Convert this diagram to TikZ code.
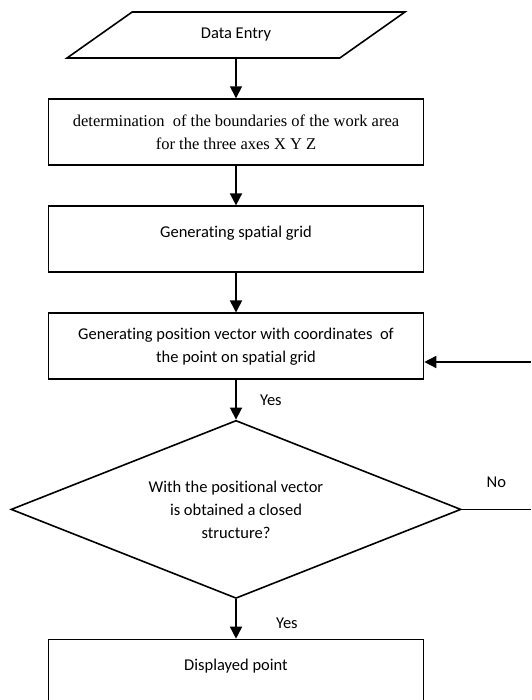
\documentclass[tikz,border=0pt]{standalone}
\usepackage{fontspec}
\setmainfont[Ligatures=NoCommon]{Carlito}
\newfontfamily\timesfont{Liberation Serif}
\usepackage{tikz}
\usetikzlibrary{positioning, shapes.geometric, arrows.meta}

\begin{document}
\begin{tikzpicture}[x=1pt, y=1pt, node distance=39.5pt,
every node/.style={font=\fontsize{16.5}{23}\selectfont},
inputnode/.style={trapezium, trapezium left angle=31, trapezium right angle=149, trapezium stretches=true, draw=black, line width=1.6pt, minimum width=338pt, minimum height=46pt, inner sep=0pt},
squarednode/.style={rectangle, draw=black, line width=1.6pt, minimum width=375pt, minimum height=66pt, align=center},
topnode/.style={squarednode, text height=12pt, text depth=16pt},
decisionnode/.style={diamond, draw=black, line width=1.6pt, minimum width=450pt, minimum height=178pt, aspect=2.53, inner sep=0pt, align=center},
arrow/.style={-{Triangle[length=12pt, width=12pt]}, line width=1.6pt},
]
\useasboundingbox (0,0) rectangle (531,700);
%Nodes
\node[inputnode]        (Entry)     at (236,665)            {Data Entry};
\node[squarednode]      (Bounds)    [below=of Entry]        {\timesfont determination\ \ of the boundaries of the work area\\\timesfont for the three axes X Y Z};
\node[topnode]          (Grid)      [below=of Bounds]       {Generating spatial grid};
\node[squarednode]      (Vector)    [below=of Grid]         {Generating position vector with coordinates\ \ of\\the point on spatial grid};
\node[decisionnode]     (Closed)    [below=of Vector]       {With the positional vector\\is obtained a closed\\structure?};
\node[topnode]          (Point)     [below=of Closed]       {Displayed point};
\coordinate             (Back)      at (531,338);
\coordinate             (NoEnd)     at (531,194);

%Lines
\draw[arrow] (Entry) -- (Bounds);
\draw[arrow] (Bounds) -- (Grid);
\draw[arrow] (Grid) -- (Vector);
\draw[arrow] (Vector) -- node[pos=0.5, right=20pt] {Yes} (Closed);
\draw[arrow] (Closed) -- node[pos=0.6, right=36pt] {Yes} (Point);
\draw[line width=1.6pt] (Closed.east) -- node[above=18pt] {No} (NoEnd |- Closed.east);
\draw[arrow] (Back) -- (Back -| Vector.east);

\end{tikzpicture}
\end{document}
